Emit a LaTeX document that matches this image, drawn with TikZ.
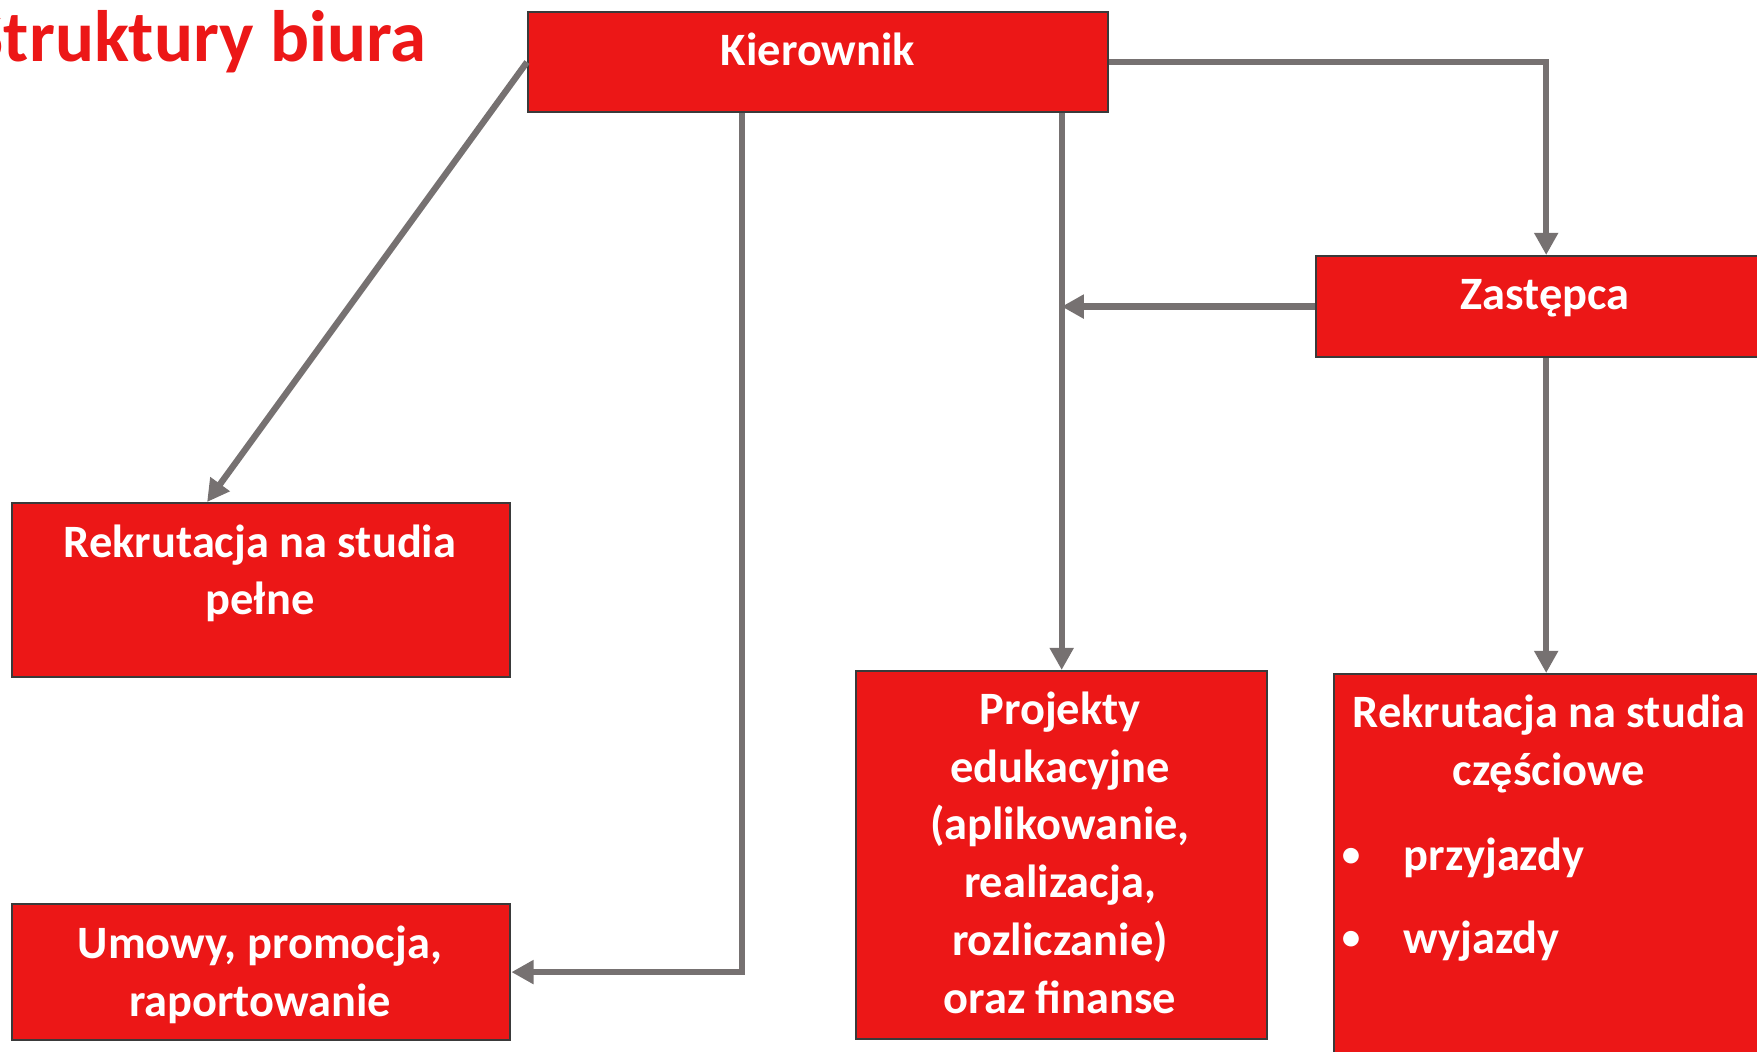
\documentclass[tikz,border=0pt]{standalone}
\usepackage{fontspec}
\setmainfont{Carlito}
\usetikzlibrary{arrows.meta}
\definecolor{boxred}{HTML}{EC1717}
\definecolor{edgegray}{HTML}{3A3A3A}
\definecolor{arrowgray}{HTML}{767171}
\newcommand{\boxfont}{\fontsize{13.2}{16.4}\selectfont\bfseries}

\tikzset{
  box/.style={fill=boxred,draw=edgegray,line width=0.6pt,anchor=north west,inner sep=0pt},
  boxtext/.style={text=white,font=\boxfont,align=center,anchor=base,inner sep=0pt},
  conn/.style={draw=arrowgray,line width=1.8pt,-{Triangle[length=6.3pt,width=6.5pt]}},
}

\begin{document}
\begin{tikzpicture}[x=0.01cm,y=-0.01cm]
        \useasboundingbox (0,0) rectangle (1757,1052);
        % title
        \node[text=boxred,font=\fontsize{20.7}{25}\selectfont\bfseries,anchor=base east,inner sep=0pt] (title) at (427,62) {Struktury biura};
        % boxes
        \node[box,minimum width=5.8cm,minimum height=1cm] (kier) at (527,11) {};
        \node[box,minimum width=4.6cm,minimum height=1.01cm] (zast) at (1315,255) {};
        \node[box,minimum width=4.98cm,minimum height=1.74cm] (pelne) at (11,502) {};
        \node[box,minimum width=4.98cm,minimum height=1.36cm] (umowy) at (11,903) {};
        \node[box,minimum width=4.11cm,minimum height=3.68cm] (proj) at (855,670) {};
        \node[box,minimum width=4.3cm,minimum height=4cm] (czesc) at (1333,673) {};
        % texts (base = last line)
        \node[boxtext] (kierT) at (818,66) {Kierownik};
        \node[boxtext] (zastT) at (1545,310) {Zastępca};
        \node[boxtext] (pelneT) at (260,615) {Rekrutacja na studia\\pełne};
        \node[boxtext] (umowyT) at (260,1016) {Umowy, promocja,\\raportowanie};
        \node[boxtext] (projT) at (1060,1013) {Projekty\\edukacyjne\\(aplikowanie,\\realizacja,\\rozliczanie)\\oraz finanse};
        \node[boxtext] (czescT) at (1549,785) {Rekrutacja na studia\\częściowe};
        \node[boxtext,font=\fontsize{10.5}{12}\selectfont\bfseries] (dot1) at (1351,866) {•};
        \node[boxtext,anchor=base west] (przy) at (1403,870) {przyjazdy};
        \node[boxtext,font=\fontsize{10.5}{12}\selectfont\bfseries] (dot2) at (1351,949) {•};
        \node[boxtext,anchor=base west] (wyj) at (1403,953) {wyjazdy};
        % connectors
        \draw[conn] (kier.west) -- ([xshift=1.96cm]pelne.north west);
        \draw[conn] ([xshift=-0.76cm]kier.south) |- (umowy.east);
        \draw[conn] (kier.south -| proj.north) -- (proj.north);
        \draw[conn] (kier.east) -| (zast.north);
        \draw[conn] (zast.west) -- (zast.west -| proj.north);
        \draw[conn] (zast.south) -- (zast.south |- czesc.north);
      \end{tikzpicture}
\end{document}
